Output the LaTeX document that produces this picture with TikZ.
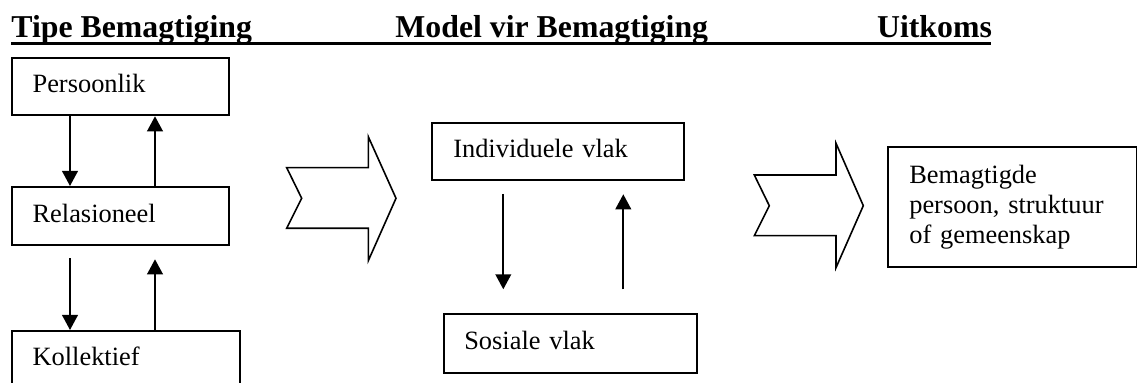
\documentclass[tikz,border=0pt]{standalone}
\usepackage{fontspec}
\setmainfont{Liberation Serif}
\usetikzlibrary{arrows.meta}
\begin{document}
\begin{tikzpicture}[x=0.5pt,y=-0.5pt,
  hd/.style={inner sep=0pt, anchor=base west, font=\fontsize{15.9}{19}\selectfont\bfseries},
  bx/.style={draw, line width=1pt, rectangle, anchor=north west, inner ysep=0pt, align=left,
     font=\fontsize{13.2}{15}\selectfont},
  one/.style={text height=9pt, text depth=3pt},
  arr/.style={line width=1pt, -{Triangle[length=7.5pt,width=7.8pt]}},
  chev/.style={draw, line width=0.8pt, line join=miter}]
\clip (0,0) rectangle (1137,383);
% headings
\node[hd] (h1) at (11,37.7) {Tipe Bemagtiging};
\node[hd] (h2) at (395,37.7) {Model vir Bemagtiging};
\node[hd] (h3) at (876.7,37.7) {Uitkoms};
\coordinate (ul1) at (11,43.5);
\coordinate (ul2) at (991,43.5);
\draw[line width=1.6pt] (ul1) -- (ul2);
% left column
\node[bx, one, minimum width=108.35pt, minimum height=28.8pt, inner xsep=10.3pt, text width=87.75pt] (pers) at (11,56.7) {Persoonlik};
\node[bx, one, minimum width=108.35pt, minimum height=29.15pt, inner xsep=10.3pt, text width=87.75pt] (rel) at (11,186) {Relasioneel};
\node[bx, one, minimum width=114pt, minimum height=29pt, inner xsep=10.3pt, text width=93.4pt] (kol) at (11,330) {Kollektief};
\coordinate (xa) at (70,0);
\coordinate (xb) at (155,0);
\coordinate (r1) at (70,258.3);
\coordinate (r2) at (155,259.3);
\draw[arr] (pers.south -| xa) -- (rel.north -| xa);
\draw[arr] (rel.north -| xb) -- (pers.south -| xb);
\draw[arr] (r1) -- (kol.north -| xa);
\draw[arr] (kol.north -| xb) -- (r2);
% chevron 1
\draw[chev] (286.7,167.7) -- (368.3,167.7) -- (368.3,136.7) -- (396,198.3) -- (368.3,260.7) -- (368.3,228.3) -- (286.7,228.3) -- (301.7,198.3) -- cycle;
% middle column
\node[bx, one, minimum width=126.3pt, minimum height=28.65pt, inner xsep=10.8pt, text width=104.7pt] (ind) at (430.7,121.7) {Individuele vlak};
\node[bx, one, minimum width=126.5pt, minimum height=29.2pt, inner xsep=10.3pt, text width=105.9pt] (sos) at (442.7,313.3) {Sosiale vlak};
\coordinate (m1) at (503.3,194);
\coordinate (m2) at (503.3,289.3);
\coordinate (m3) at (623.3,289.3);
\coordinate (m4) at (623.3,194.3);
\draw[arr] (m1) -- (m2);
\draw[arr] (m3) -- (m4);
% chevron 2
\draw[chev] (754.3,175) -- (836,175) -- (836,143.3) -- (863.3,205.7) -- (836,267.7) -- (836,235.7) -- (754.3,235.7) -- (769.3,205.7) -- cycle;
% result
\node[bx, minimum width=124.65pt, minimum height=60pt, inner xsep=10.8pt, text width=103.05pt] (res) at (886.7,145.7) {Bemagtigde\\persoon, struktuur\\of gemeenskap};
\end{tikzpicture}
\end{document}
